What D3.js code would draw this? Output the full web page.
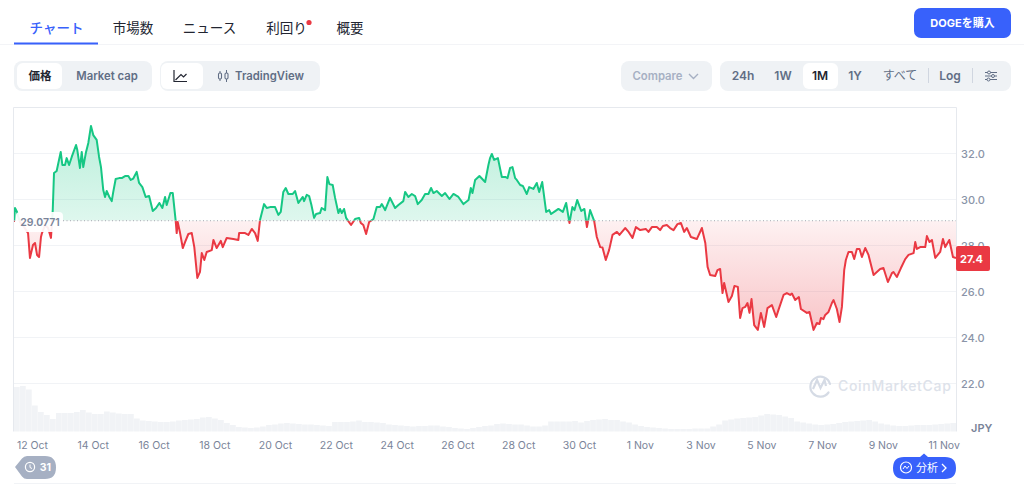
<!DOCTYPE html>
<html lang="ja"><head><meta charset="utf-8">
<script src="https://cdn.jsdelivr.net/npm/d3@7/dist/d3.min.js"></script>
<style>
html,body{margin:0;padding:0;background:#fff;overflow:hidden}
svg{display:block}
text{font-family:Inter,"Noto Sans CJK JP",sans-serif}
.jp{font-family:"Noto Sans CJK JP",Inter,sans-serif}
</style></head><body><svg id="c" width="1024" height="484"></svg>
<script>
// hours since the start of the window, price in JPY
const priceSeries=[[0,29.02],[.8,29.63],[2.4,29.46],[3.2,29.28],[4.7,29.02],[8,28.8],[11.1,28.54],[12.6,27.46],[15,28.02],[16.6,28.11],[18.2,27.59],[19.8,27.5],[21.3,28.37],[22.1,28.54],[24.5,28.89],[26.9,28.76],[29.2,28.33],[30.6,29.54],[31.6,31.15],[33.7,31.24],[36.9,32.07],[38.2,31.5],[40.3,31.5],[41.6,31.8],[43.5,31.5],[45.6,31.85],[49,32.37],[50,32.15],[52.1,31.37],[53.5,32.07],[54.7,31.41],[56.9,32.07],[58.7,32.46],[60.8,33.2],[62.6,32.8],[65.3,32.59],[67.2,31.85],[68.7,31.41],[70.5,30.41],[71.9,30.11],[73.2,30.37],[75.3,30.11],[77.2,29.93],[78.4,30.33],[80.3,30.89],[83,30.93],[85.1,30.93],[87.7,31.02],[90.3,31.02],[92.2,30.85],[94.2,30.91],[96.9,31.2],[98.8,30.72],[101.4,30.54],[104,30.11],[106.7,30.15],[109.6,29.5],[112.2,29.63],[114.8,29.85],[117.2,29.63],[119.3,30.11],[120.6,29.76],[123.5,30.28],[125.4,30.28],[127.7,29.07],[128.5,28.54],[129.3,29.02],[131,28.59],[133.3,27.89],[135.1,28.15],[137.7,28.5],[140.4,28.54],[142.4,27.93],[144.8,26.59],[146.9,26.85],[148.3,27.67],[150.3,27.37],[152.2,27.72],[156.2,27.8],[157.5,28.24],[160.1,27.89],[163.3,28.2],[164.9,27.93],[168,28.33],[173.2,28.28],[177.2,28.24],[177.8,28.54],[182.5,28.54],[185.1,28.46],[187.8,28.72],[190.4,28.54],[192.5,28.2],[194.3,29.11],[197.5,29.8],[199.6,29.63],[202.2,29.67],[206.2,29.67],[208.8,29.33],[210.7,29.46],[212.7,30.33],[214.6,30.5],[216.7,30.24],[220.2,30.24],[222,30.37],[224.6,29.85],[228.1,30.11],[229.1,29.93],[231.2,30.2],[233.1,30.15],[234.9,29.76],[237,29.2],[238.6,29.37],[241.7,29.41],[243,29.63],[245.7,29.54],[247.5,30.98],[249.1,30.67],[251.7,30.63],[253.6,30.07],[256.2,29.41],[257.5,29.59],[258.9,29.41],[260.7,29.59],[262.3,29.2],[266.2,28.89],[269.4,29.15],[272.6,29.2],[273.9,28.98],[275.9,28.89],[278.1,28.5],[280.5,29.02],[283.9,29.15],[286.5,29.67],[289.1,29.67],[290.5,29.8],[293.1,29.54],[297,30.07],[301,29.63],[303.6,29.76],[307.5,29.93],[308.9,30.33],[311.5,30.11],[314.2,30.24],[316.8,30.15],[318.9,29.8],[322,29.98],[324.7,30.24],[327.3,30.24],[329.4,30.5],[331.3,30.28],[333.9,30.37],[337.9,30.15],[340.5,30.28],[343.9,30.02],[347.1,30.24],[351,30.11],[355,29.8],[359,29.98],[360.8,30.5],[362.1,30.28],[364.2,30.85],[367.6,31.02],[372.1,30.76],[374.7,31.5],[376,31.8],[377.4,31.98],[379.2,31.72],[382.2,31.8],[385.3,30.98],[388,30.98],[389.8,30.93],[391.8,31.37],[393.7,31.41],[395.8,30.93],[397.1,30.85],[399.8,30.63],[401.9,30.59],[405,30.24],[406.9,30.54],[410.2,30.46],[412.9,30.72],[414.8,30.33],[417.2,30.76],[420.3,29.46],[422.7,29.54],[424.2,29.37],[426.6,29.46],[430,29.59],[433.5,29.46],[436.1,29.85],[438.7,28.98],[441,29.67],[442.7,29.54],[444.8,29.98],[448,29.5],[450.5,29.59],[452.5,28.8],[455,29.54],[458.2,29.07],[460.3,28.37],[463,27.93],[464.8,27.91],[467.4,27.37],[470,27.8],[472.7,28.46],[476.2,28.59],[478.2,28.46],[482.7,28.76],[485.4,28.59],[488.5,28.33],[491.2,28.8],[494.6,28.67],[499,28.72],[501.1,28.59],[503.8,28.8],[507.7,28.8],[510.3,28.67],[512.5,28.85],[515.6,28.89],[518.2,28.76],[520.9,28.67],[524,28.93],[526.7,28.98],[529.3,28.59],[531.4,28.76],[534.6,28.37],[539.3,28.28],[543.3,28.76],[546,28.11],[547.8,27.07],[549.8,26.72],[553.8,26.67],[555.6,26.93],[557.7,26.98],[559.6,25.93],[560.9,26.37],[564.3,25.54],[567,25.8],[569,26.24],[571.7,26.2],[573.5,24.85],[575.4,25.28],[577.5,25.33],[579.3,25.5],[580.9,25.07],[582.5,25.67],[584.6,24.54],[587.5,24.33],[589.9,25.07],[592.5,24.46],[595.1,25.28],[598.6,25.41],[602,24.89],[603.8,25.2],[607.8,25.85],[610.4,25.93],[613,25.85],[614.4,25.91],[617,25.63],[619.9,25.76],[621.5,25.24],[626.2,25.07],[628.3,25.11],[631.5,24.33],[634.1,24.63],[636.2,24.59],[637.3,24.85],[639.3,24.8],[640.7,24.98],[643.3,25.11],[646,25.5],[647.3,25.63],[649.9,25.24],[652,24.67],[653.9,25.33],[655.7,26.93],[657,27.37],[659.1,27.72],[661.8,27.72],[663.6,27.41],[665.7,27.85],[667.8,27.85],[669.7,27.5],[672.3,27.89],[674.9,27.59],[678.9,26.72],[681.5,26.85],[684.1,26.98],[686.7,27.02],[690.2,26.41],[693.4,26.8],[694.6,26.85],[697.3,26.63],[700.5,27.02],[703.9,27.41],[706.5,27.59],[710.5,27.67],[711.8,28.15],[713.1,27.85],[715.7,27.93],[719.7,27.93],[721,28.41],[723.1,28.15],[725,28.24],[727.6,27.46],[731.5,27.72],[733.7,28.28],[735.5,27.93],[738.7,28.24],[741.6,27.5],[744,27.46]];
const volumeValues=[44.5,45.5,42,26,19.5,16.5,12.5,18.5,18.5,18.5,19.5,21.5,19,17.5,17.5,20,19,18,17.5,17.5,13,11,10.5,10,9.5,9.5,10,11,11.5,12,12.5,14,14.5,13,11.5,8.5,6.5,4.5,4,3.5,4,5,6.5,7,8,8.5,8,7.5,7,7,6.5,6,5.5,9.5,9.5,9.5,10,11,9.5,9.5,9,8.5,7,6.5,6,5.5,5,5.5,5.5,6,6,5,4.5,3.5,3,2.5,3.5,4.5,5.5,6,7.5,8,7.5,7,7,6,5,5,6,10,10,10,10,10.5,9,10.5,11.5,12,12.5,11.5,11.5,10,9,7,5.5,4.5,4,3.5,3,2.5,2.5,2.5,2.5,3,3,3,5,7,11,12,13,13.5,14,14.5,16,17.5,17,16.5,15,13.5,10,9,8,7,6.5,7,7.5,8.5,9.5,10,10.5,11,11.5,10,8,7,6,5.5,5.5,6,6.5,6.5,6.5,7,7.5,8,8.5];
const priceTicks=[22,24,26,28,30,32];
const tickDates=["2021-10-12","2021-10-14","2021-10-16","2021-10-18","2021-10-20","2021-10-22","2021-10-24","2021-10-26","2021-10-28","2021-10-30","2021-11-01","2021-11-03","2021-11-05","2021-11-07","2021-11-09","2021-11-11"];
const basePrice=29.0771, lastPriceLabel="27.4";
const navTabs=[["チャート",56.5],["市場数",133],["ニュース",209.5],["利回り",286.5],["概要",350]];
const rangeButtons=[["24h",743],["1W",783],["1M",820],["1Y",855],["すべて",900],["Log",950]];

const startMs=Date.UTC(2021,9,11,9,48), H=3600e3;
const GREEN="#16c784",RED="#ea3943",BLUE="#3861fb",GRID="#f1f3f6",PANEL="#eff2f5",MUTE="#616e85";
const L=14,R=956;
const svg=d3.select("#c");
const x=d3.scaleUtc().domain([new Date(startMs),new Date(startMs+744*H)]).range([L,R]);
const y=d3.scaleLinear().domain([22,32]).range([383.5,153.5]);
const vBand=d3.scaleBand().domain(d3.range(volumeValues.length)).range([L,R]).paddingInner(.05);
const vY=d3.scaleLinear().domain([0,46.5]).range([431.5,385]);
const T=d=>new Date(startMs+d[0]*H);
const by=y(basePrice);

// header
svg.append("line").attr("x1",0).attr("x2",1024).attr("y1",44.5).attr("y2",44.5).attr("stroke","#f3f4f7");
svg.append("rect").attr("x",14).attr("y",42.5).attr("width",84).attr("height",2).attr("fill",BLUE);
svg.selectAll(".tab").data(navTabs).join("text").attr("class","jp").attr("x",d=>d[1]).attr("y",33)
  .attr("text-anchor","middle").attr("font-size",13.5).attr("font-weight",(d,i)=>i?400:500)
  .attr("fill",(d,i)=>i?"#222531":BLUE).text(d=>d[0]);
svg.append("circle").attr("cx",309).attr("cy",22.5).attr("r",2.6).attr("fill",RED);
svg.append("rect").attr("x",914).attr("y",8).attr("width",97).attr("height",30).attr("rx",7).attr("fill",BLUE);
svg.append("text").attr("x",962.5).attr("y",27).attr("text-anchor","middle").attr("font-size",11).attr("font-weight",700).attr("fill","#fff").text("DOGEを購入");

const panel=(a,b)=>svg.append("rect").attr("x",a).attr("y",61).attr("width",b-a).attr("height",30).attr("rx",8).attr("fill",PANEL);
const chip=(a,b)=>svg.append("rect").attr("x",a).attr("y",63).attr("width",b-a).attr("height",26).attr("rx",6).attr("fill","#fff");
const label=(t,cx,c,w=600,s=11.3)=>svg.append("text").attr("x",cx).attr("y",80).attr("text-anchor","middle").attr("font-size",s).attr("font-weight",w).attr("fill",c).text(t);
panel(14,152);chip(17,62);label("価格",40,"#222531",700,11.5);label("Market cap",107,MUTE);
panel(160,320);chip(161,203);
svg.append("path").attr("d","M174 70V81.5H187M175.5 80L181 74.5L183.5 77L186.5 74").attr("fill","none").attr("stroke","#222531").attr("stroke-width",1.2);
svg.append("path").attr("d","M220 71V81M226.5 70V82").attr("stroke",MUTE).attr("stroke-width",1);
svg.append("rect").attr("x",218.5).attr("y",73).attr("width",3).attr("height",6).attr("rx",1.2).attr("fill","#eff2f5").attr("stroke",MUTE).attr("stroke-width",1.1);
svg.append("rect").attr("x",225).attr("y",73).attr("width",3).attr("height",6).attr("rx",1.2).attr("fill","#eff2f5").attr("stroke",MUTE).attr("stroke-width",1.1);
label("TradingView",269.5,MUTE);
panel(621,712);label("Compare",657.5,"#a6b0c3");
svg.append("path").attr("d","M689 74L693.5 78.5L698 74").attr("fill","none").attr("stroke","#a6b0c3").attr("stroke-width",1.4);
panel(720,1011);chip(803,838);
svg.selectAll(".rng").data(rangeButtons).join("text").attr("x",d=>d[1]).attr("y",80).attr("text-anchor","middle")
  .attr("font-size",12).attr("font-weight",d=>d[0]==="すべて"?400:600).attr("fill",d=>d[0]==="1M"?"#222531":MUTE).text(d=>d[0]);
svg.selectAll(".sep").data([928.5,972.5]).join("line").attr("x1",d=>d).attr("x2",d=>d).attr("y1",68).attr("y2",83).attr("stroke","#d0d6e0");
[[985,997,72.5,989],[985,997,76,993],[985,997,79.5,988.5]].forEach(a=>{
  svg.append("line").attr("x1",a[0]).attr("x2",a[1]).attr("y1",a[2]).attr("y2",a[2]).attr("stroke",MUTE);
  svg.append("circle").attr("cx",a[3]).attr("cy",a[2]).attr("r",1.5).attr("fill","#eff2f5").attr("stroke",MUTE);
});

// frame & grid
svg.append("path").attr("d",`M${L-.5} 431.5V107.5H${R+.5}V431.5`).attr("fill","none").attr("stroke","#e6e9ee");
svg.selectAll(".grid").data(priceTicks).join("line").attr("x1",L).attr("x2",R).attr("y1",d=>y(d)).attr("y2",d=>y(d)).attr("stroke",GRID);
svg.append("line").attr("x1",L).attr("x2",R).attr("y1",483.5).attr("y2",483.5).attr("stroke",GRID);

// volume
svg.selectAll(".vol").data(volumeValues).join("rect").attr("x",(d,i)=>vBand(i)).attr("width",vBand.bandwidth())
  .attr("y",d=>vY(d)).attr("height",d=>vY(0)-vY(d)).attr("fill","#f1f3f6");

// gradients + clips
const defs=svg.append("defs");
const grad=(id,y1,y2,c,o1,o2)=>{const g=defs.append("linearGradient").attr("id",id).attr("gradientUnits","userSpaceOnUse").attr("x1",0).attr("x2",0).attr("y1",y1).attr("y2",y2);
 g.append("stop").attr("offset",0).attr("stop-color",c).attr("stop-opacity",o1);g.append("stop").attr("offset",1).attr("stop-color",c).attr("stop-opacity",o2);};
grad("gUp",y(33.2),by,GREEN,.3,.14);
grad("gDn",by,y(24.2),RED,.07,.3);
defs.append("clipPath").attr("id","cUp").append("rect").attr("x",L).attr("y",100).attr("width",R-L).attr("height",by-100);
defs.append("clipPath").attr("id","cDn").append("rect").attr("x",L).attr("y",by).attr("width",R-L).attr("height",200);
const area=d3.area().x(d=>x(T(d))).y0(by).y1(d=>y(d[1]));
const line=d3.line().x(d=>x(T(d))).y(d=>y(d[1]));
[["cUp","gUp",GREEN],["cDn","gDn",RED]].forEach(s=>{
  const g=svg.append("g").attr("clip-path",`url(#${s[0]})`);
  g.append("path").datum(priceSeries).attr("d",area).attr("fill",`url(#${s[1]})`);
  g.append("path").datum(priceSeries).attr("d",line).attr("fill","none").attr("stroke",s[2]).attr("stroke-width",2).attr("stroke-linejoin","round");
});
svg.append("line").attr("x1",L).attr("x2",R).attr("y1",by).attr("y2",by).attr("stroke","#a6a6b0").attr("stroke-width",1).attr("stroke-dasharray","1 2.5");

// axes
const yAxis=d3.axisRight(y).tickValues(priceTicks).tickSize(0).tickPadding(0).tickFormat(d3.format(".1f"));
const yg=svg.append("g").attr("transform",`translate(961,0)`).call(yAxis);
const xAxis=d3.axisBottom(x).tickValues(tickDates.map(d=>new Date(d+"T00:00:00Z"))).tickSize(0).tickPadding(0).tickFormat(d3.utcFormat("%-d %b"));
const xg=svg.append("g").attr("transform","translate(0,441.5)").call(xAxis);
[yg,xg].forEach(g=>g.select(".domain").remove());
yg.selectAll("text").attr("font-size",11).attr("font-weight",500).attr("fill","#8a94a8").attr("font-family","Inter");
xg.selectAll("text").attr("font-size",10.5).attr("font-weight",400).attr("fill","#7a8499").attr("font-family","Inter");
svg.append("text").attr("x",971).attr("y",432).attr("font-size",11).attr("font-weight",600).attr("fill","#7a8499").text("JPY");

// base label and last price
svg.append("rect").attr("x",16).attr("y",212).attr("width",47).attr("height",20).attr("rx",4).attr("fill","#fff").attr("fill-opacity",.92);
svg.append("text").attr("x",40).attr("y",226).attr("text-anchor","middle").attr("font-size",10.5).attr("font-weight",600).attr("fill","#7a8499").text(basePrice.toFixed(4));
svg.append("rect").attr("x",956).attr("y",246).attr("width",34).attr("height",25).attr("rx",2).attr("fill",RED);
svg.append("text").attr("x",971.5).attr("y",262.5).attr("text-anchor","middle").attr("font-size",11).attr("font-weight",700).attr("fill","#fff").text(lastPriceLabel);

// watermark
svg.append("path").attr("d","M828.5 392.5A10 10 0 1 1 830 384").attr("fill","none").attr("stroke","#d5dbe5").attr("stroke-width",2.2).attr("stroke-linecap","round");
svg.append("path").attr("d","M813 389L817 380L820.5 388L824.5 380L826 386").attr("fill","none").attr("stroke","#d5dbe5").attr("stroke-width",2.2);
svg.append("text").attr("x",838).attr("y",391).attr("font-size",14).attr("font-weight",500).attr("letter-spacing",.7).attr("fill","#dde2ea").text("CoinMarketCap");

// badges
svg.append("path").attr("d","M15 467L22 458.5Q24 456 27 456H45Q56 456 56 467.5Q56 479 45 479H27Q24 479 22 476.5Z").attr("fill","#a6b0c3");
svg.append("circle").attr("cx",30).attr("cy",467).attr("r",4.6).attr("fill","none").attr("stroke","#fff").attr("stroke-width",1.2);
svg.append("path").attr("d","M30 464.5V467.5L32 468.5").attr("fill","none").attr("stroke","#fff");
svg.append("text").attr("x",45.5).attr("y",471).attr("text-anchor","middle").attr("font-size",10.5).attr("font-weight",700).attr("fill","#fff").text("31");
svg.append("path").attr("d","M904 457H920L924 453.5L928 457H945Q956 457 956 468Q956 479 945 479H904Q893 479 893 468Q893 457 904 457Z").attr("fill",BLUE);
svg.append("circle").attr("cx",906).attr("cy",467.5).attr("r",5.5).attr("fill","none").attr("stroke","#fff").attr("stroke-width",1.2);
svg.append("path").attr("d","M903 469L905 466L907 468.5L909 466").attr("fill","none").attr("stroke","#fff");
svg.append("text").attr("x",927).attr("y",472).attr("text-anchor","middle").attr("class","jp").attr("font-size",11).attr("fill","#fff").text("分析");
svg.append("path").attr("d","M942 464L946 468L942 472").attr("fill","none").attr("stroke","#fff").attr("stroke-width",1.3);
</script></body></html>
